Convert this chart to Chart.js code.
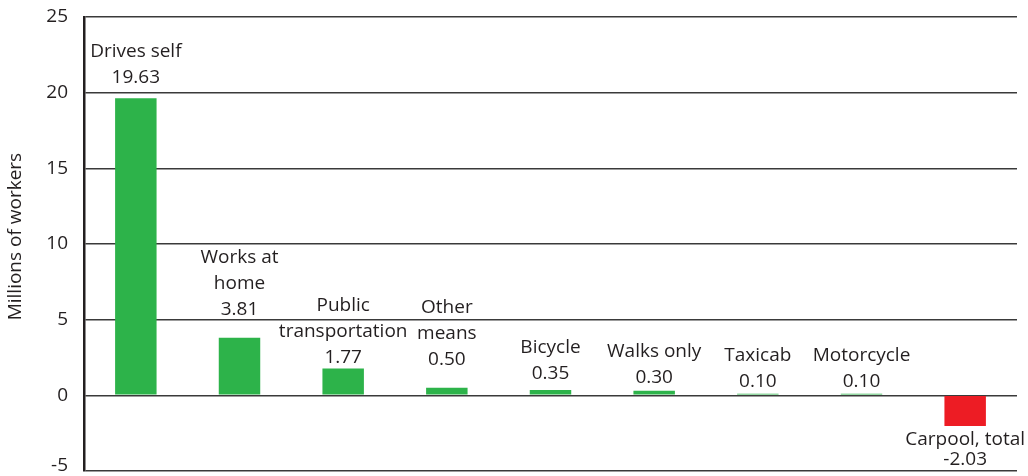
<!DOCTYPE html>
<html>
<head>
<meta charset="utf-8">
<script src="https://cdn.jsdelivr.net/npm/chart.js@4/dist/chart.umd.min.js"></script>
<style>
  html,body{margin:0;padding:0;background:#fff;}
</style>
</head>
<body>
<canvas id="chartMode" width="1028" height="476"></canvas>
<script>
// commute mode change, millions of workers
const modes=[['Drives self'],['Works at','home'],['Public','transportation'],['Other','means'],['Bicycle'],['Walks only'],['Taxicab'],['Motorcycle'],['Carpool, total']];
const workers=[19.63,3.81,1.77,0.50,0.35,0.30,0.10,0.10,-2.03];
const yTicks=[-5,0,5,10,15,20,25];

// pixel gap between bar end and its label block
const labelGap=[15,23,6,23,11,8,7,7,19];

const INK='#231f20';
const FONT="'Open Sans',sans-serif";

const barLabels={
  id:'barLabels',
  afterDatasetsDraw(chart){
    const {ctx}=chart;
    const meta=chart.getDatasetMeta(0);
    ctx.save();
    ctx.font='19px '+FONT;
    ctx.fillStyle=INK;
    ctx.textAlign='center';
    ctx.textBaseline='alphabetic';
    const lh=26;
    meta.data.forEach((bar,i)=>{
      const v=workers[i];
      const lines=[...modes[i],v.toFixed(2)];
      if(v>=0){
        let y=bar.y-labelGap[i];
        for(let k=lines.length-1;k>=0;k--){ctx.fillText(lines[k],bar.x,y);y-=lh;}
      }else{
        let y=bar.y+labelGap[i];
        lines.forEach(t=>{ctx.fillText(t,bar.x,y);y+=lh-6;});
      }
    });
    ctx.restore();
  }
};

new Chart(document.getElementById('chartMode'),{
  type:'bar',
  data:{
    labels:modes.map(m=>m.join(' ')),
    datasets:[{
      data:workers,
      backgroundColor:workers.map(v=>v<0?'#ed1c24':'#2db34a'),
      borderWidth:0,
      barPercentage:0.4,
      categoryPercentage:1
    }]
  },
  options:{
    responsive:false,
    animation:false,
    layout:{padding:{top:17,right:11,bottom:5,left:0}},
    plugins:{legend:{display:false},tooltip:{enabled:false}},
    scales:{
      x:{display:false},
      y:{
        min:-5,max:25,
        afterBuildTicks:s=>{s.ticks=yTicks.map(v=>({value:v}));},
        afterFit:s=>{s.width=84;s.paddingTop=0;s.paddingBottom=0;},
        grid:{color:'#3a3a3a',lineWidth:1.5,drawTicks:false},
        border:{display:true,color:'#231f20',width:2.5},
        ticks:{
          padding:16,color:INK,
          font:{family:FONT,size:19,lineHeight:0.55},
          // lift the bottom label so it stays on the canvas
          callback:v=>v===yTicks[0]?[String(v),'']:String(v)
        },
        title:{display:true,text:'   Millions of workers',color:INK,font:{family:FONT,size:19},padding:{top:4,bottom:0}}
      }
    }
  },
  plugins:[barLabels]
});
</script>
</body>
</html>
